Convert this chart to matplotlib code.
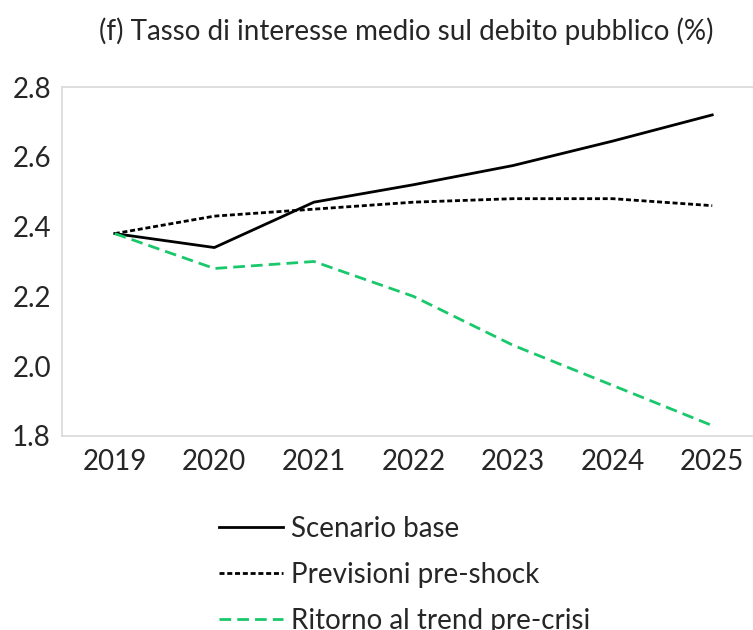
import matplotlib.pyplot as plt

plt.rcParams['font.family'] = ['Lato', 'DejaVu Sans']

years = [2019, 2020, 2021, 2022, 2023, 2024, 2025]
scenario_base = [2.38, 2.34, 2.47, 2.52, 2.575, 2.645, 2.72]
pre_shock = [2.38, 2.43, 2.45, 2.47, 2.48, 2.48, 2.46]
pre_crisi = [2.38, 2.28, 2.30, 2.20, 2.06, 1.945, 1.83]
labels = ['Scenario base', 'Previsioni pre-shock', 'Ritorno al trend pre-crisi']

text_col = '#262626'

fig = plt.figure(figsize=(7.53, 6.30), dpi=100)
ax = fig.add_axes([62 / 753, 1 - 436 / 630, 703 / 753, 349 / 630])

ax.plot(years, scenario_base, color='black', lw=2.0, label=labels[0])
ax.plot(years, pre_shock, color='black', lw=2.0, dashes=(1.8, 1.0), label=labels[1])
ax.plot(years, pre_crisi, color='#19c86b', lw=2.0, dashes=(4.2, 2.2), label=labels[2])

ax.set_xlim(2018.47, 2025.53)
ax.set_ylim(1.8, 2.8)
ax.set_xticks(years)
ax.set_yticks([1.8, 2.0, 2.2, 2.4, 2.6, 2.8])
ax.set_yticklabels(['1.8', '2.0', '2.2', '2.4', '2.6', '2.8'])
ax.tick_params(length=0, labelsize=20, labelcolor=text_col)
ax.tick_params(axis='x', pad=9)
ax.tick_params(axis='y', pad=8)
for s in ax.spines.values():
    s.set_color('#d9d9d9')
    s.set_linewidth(1.2)

fig.text(406 / 753, 1 - 31 / 630, '(f) Tasso di interesse medio sul debito pubblico (%)',
         ha='center', va='center', fontsize=20, color=text_col)

fig.legend(loc='upper left', bbox_to_anchor=(205 / 753, 1 - 502 / 630), frameon=False,
           fontsize=20, handlelength=2.3, handletextpad=0.3, labelspacing=0.72,
           borderpad=0, labelcolor=text_col)

fig.savefig('out.png', dpi=100)
